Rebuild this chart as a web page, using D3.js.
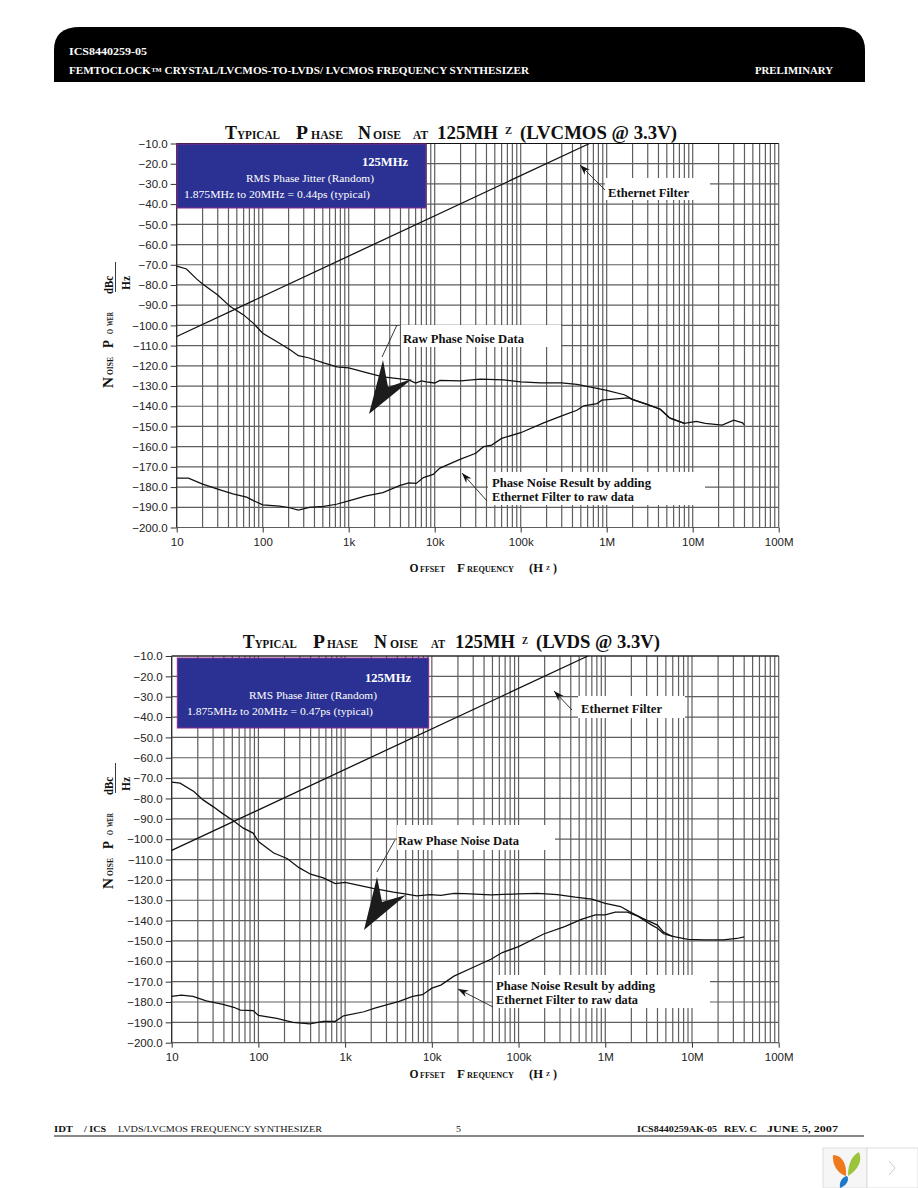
<!DOCTYPE html>
<html>
<head>
<meta charset="utf-8">
<script src="https://cdn.jsdelivr.net/npm/d3@7/dist/d3.min.js"></script>
<style>
  html, body { margin: 0; padding: 0; background: #fff; }
  svg { display: block; }
  .serif { font-family: "Liberation Serif", serif; }
  .axis text { font-family: "Liberation Sans", sans-serif; font-size: 11.5px; fill: #222; }
  .axis path { display: none; }
  .axis line { stroke: #333; }
</style>
</head>
<body>
<svg id="page" width="918" height="1188"></svg>
<script>
const xTicks = [10, 100, 1e3, 1e4, 1e5, 1e6, 1e7, 1e8];
const xTickLabels = ['10', '100', '1k', '10k', '100k', '1M', '10M', '100M'];
const yTicks = [-10, -20, -30, -40, -50, -60, -70, -80, -90, -100, -110, -120, -130, -140, -150, -160, -170, -180, -190, -200];

// Ethernet filter response, same straight line on both plots
const filterFreq = [10, 630000];
const filterDb = [-105.5, -10];

// top plot, LVCMOS
const rawFreqA = [10, 13, 17, 20, 30, 42, 60, 78, 100, 145, 208, 260, 340, 510, 730, 1000, 1650, 2500, 5000, 6000, 7000, 8000, 10000, 11500, 20000, 34000, 63000, 100000, 170000, 300000, 450000, 700000, 1000000, 1600000, 2000000, 3000000, 4200000, 5500000, 8000000, 11000000, 14000000, 22000000, 30000000, 38000000, 40000000];
const rawDbA = [-70.7, -72.1, -77, -79.5, -85, -90.7, -94.8, -99, -103.9, -108, -112, -115, -116, -118.5, -120.5, -121, -123.5, -125.5, -127, -128.5, -127.5, -128, -128.5, -127.2, -127.4, -126.6, -127, -127.9, -128.4, -128.5, -129.2, -130.8, -132.1, -134.3, -136.6, -139.2, -141.5, -146, -148.5, -147.5, -148.5, -149.3, -146.9, -148.2, -149.3];
const resultFreqA = [10, 13.7, 20, 30, 45, 65, 78, 100, 157, 200, 260, 350, 510, 720, 1000, 1600, 2500, 3900, 5000, 6100, 7400, 9600, 11500, 20000, 30000, 37000, 46000, 60000, 100000, 185000, 300000, 450000, 540000, 770000, 880000, 1400000, 1800000, 2000000, 3000000, 4200000, 5300000, 8000000];
const resultDbA = [-175.6, -175.6, -178.5, -181, -183.4, -185, -186.7, -188.8, -189.4, -190.1, -191.4, -190.1, -189.6, -188.5, -186.8, -184.4, -182.7, -179.3, -177.9, -178.2, -175.3, -173.7, -170.6, -166.2, -163.3, -160, -159.2, -155.9, -153.1, -148.2, -144.8, -142, -139.8, -138.7, -137, -136.2, -135.9, -136.7, -139.2, -141.5, -145.6, -148.5];

// bottom plot, LVDS
const rawFreqB = [10, 12.5, 18, 23, 30, 38, 51, 67, 87, 100, 150, 214, 294, 400, 560, 770, 1000, 2100, 3600, 5100, 6700, 9600, 12700, 18000, 24000, 48000, 100000, 165000, 280000, 450000, 700000, 1000000, 1500000, 1900000, 2700000, 4000000, 4700000, 6000000, 9000000, 14000000, 23000000, 33000000, 40000000];
const rawDbB = [-72, -72.5, -76.6, -80.7, -84, -87.2, -90.8, -94.6, -97, -101.2, -106.8, -109.5, -114, -117.2, -119, -121.8, -121.2, -124.2, -126, -127, -127.9, -127.3, -127.6, -126.6, -126.8, -127.4, -126.9, -126.6, -127.2, -128.5, -129.5, -131.5, -133.1, -135.6, -138.9, -142.2, -145.7, -147.8, -149.2, -149.5, -149.5, -148.8, -148];
const resultFreqB = [10, 12.9, 17.6, 25, 38, 52, 62, 87, 100, 163, 250, 390, 560, 770, 960, 1650, 2200, 3000, 4200, 6000, 7800, 10000, 12700, 18000, 31000, 48000, 65000, 100000, 195000, 340000, 530000, 770000, 1000000, 1300000, 1800000, 2400000, 3400000, 4000000, 4700000, 6000000];
const resultDbB = [-177.2, -176.6, -177.2, -179.4, -181, -182.6, -184, -184.2, -186.6, -188, -190, -190.7, -189.5, -189.5, -186.8, -184.8, -183, -181.4, -179.7, -177.2, -176.4, -173.2, -171.7, -167.3, -162.7, -159, -155.7, -152.8, -146.6, -143, -139.4, -137.2, -137.2, -135.9, -135.9, -138, -142.1, -143.8, -146.5, -147.8];

const svg = d3.select('#page');

// one stretch of text fitted to a measured width
function fit(parent, str, x, y, w, size, opt) {
  opt = opt || {};
  const t = parent.append('text')
    .attr('class', 'serif')
    .attr('x', x)
    .attr('y', y)
    .attr('font-size', size)
    .attr('font-weight', opt.weight || 'bold')
    .attr('fill', opt.fill || '#111')
    .text(str);
  if (w) t.attr('textLength', w).attr('lengthAdjust', 'spacingAndGlyphs');
  return t;
}

// leader line with a small filled head at the tip
function pointer(g, x1, y1, x2, y2) {
  g.append('line')
    .attr('x1', x1).attr('y1', y1).attr('x2', x2).attr('y2', y2)
    .attr('stroke', '#222').attr('stroke-width', 0.9);
  const a = Math.atan2(y1 - y2, x1 - x2);
  const p = (r, da) => [x2 + r * Math.cos(a + da), y2 + r * Math.sin(a + da)];
  g.append('polygon')
    .attr('points', [[x2, y2], p(11, 0.33), p(7, 0), p(11, -0.33)].join(' '))
    .attr('fill', '#111');
}

function drawChart(c) {
  const g = svg.append('g');

  const x = d3.scaleLog().domain([10, 1e8]).range([c.left, 778.7]);
  const y = d3.scaleLinear().domain([-10, -200]).range([c.top, c.bottom]);

  // minor and decade verticals
  const verticals = [];
  for (let d = 10; d < 1e8; d *= 10) {
    d3.range(1, 10).forEach(m => verticals.push(d * m));
  }
  verticals.push(1e8);

  g.append('g').selectAll('line')
    .data(verticals)
    .enter().append('line')
      .attr('x1', d => x(d)).attr('x2', d => x(d))
      .attr('y1', c.top).attr('y2', c.bottom)
      .attr('stroke', '#5e5e5e').attr('stroke-width', 1.2);

  g.append('g').selectAll('line')
    .data(yTicks)
    .enter().append('line')
      .attr('x1', c.left).attr('x2', 778.7)
      .attr('y1', d => y(d)).attr('y2', d => y(d))
      .attr('stroke', '#5e5e5e').attr('stroke-width', 1.2);

  g.append('line')
    .attr('x1', c.left).attr('x2', 778.7)
    .attr('y1', c.top).attr('y2', c.top)
    .attr('stroke', '#111').attr('stroke-width', 1.2);
  g.append('line')
    .attr('x1', c.left).attr('x2', c.left)
    .attr('y1', c.top).attr('y2', c.bottom)
    .attr('stroke', '#222').attr('stroke-width', 1);

  const xAxis = d3.axisBottom(x)
    .tickValues(xTicks)
    .tickSize(5)
    .tickPadding(c.xPad)
    .tickFormat((d, i) => xTickLabels[i]);
  const yAxis = d3.axisLeft(y)
    .tickValues(yTicks)
    .tickSize(6)
    .tickPadding(3)
    .tickFormat(d3.format('.1f'));

  g.append('g')
    .attr('class', 'x axis')
    .attr('transform', 'translate(0,' + c.bottom + ')')
    .call(xAxis);
  g.append('g')
    .attr('class', 'y axis')
    .attr('transform', 'translate(' + c.left + ',0)')
    .call(yAxis);

  const line = d3.line().x(d => x(d[0])).y(d => y(d[1]));
  const series = [
    [filterFreq, filterDb, 1.3],
    [c.rawFreq, c.rawDb, 1.25],
    [c.resultFreq, c.resultDb, 1.25]
  ];
  series.forEach(s => {
    g.append('path')
      .datum(s[0].map((f, i) => [f, s[1][i]]))
      .attr('d', line)
      .attr('fill', 'none')
      .attr('stroke', '#111')
      .attr('stroke-width', s[2]);
  });

  // jitter box
  const b = c.box;
  g.append('rect')
    .attr('x', b.x).attr('y', b.y).attr('width', b.w).attr('height', b.h)
    .attr('fill', '#2a3192').attr('stroke', '#8e2b8e').attr('stroke-width', 1);
  fit(g, '125MHz', b.t[0], b.t[1], 46, 12.5, { fill: '#fff' });
  fit(g, 'RMS Phase Jitter (Random)', b.t[2], b.t[3], 128, 10.5, { fill: '#fff', weight: 'normal' });
  fit(g, '1.875MHz to 20MHz = ' + c.jitter + 'ps (typical)', b.t[4], b.t[5], 186, 10.5, { fill: '#fff', weight: 'normal' });

  // callouts, white patches knock out the grid
  c.patches.forEach(p => {
    g.append('rect').attr('x', p[0]).attr('y', p[1]).attr('width', p[2]).attr('height', p[3]).attr('fill', '#fff');
  });
  c.labels.forEach(l => fit(g, l[0], l[1], l[2], l[3], 12));
  c.pointers.forEach(p => pointer(g, p[0], p[1], p[2], p[3]));
  g.append('line')
    .attr('x1', c.leader[0]).attr('y1', c.leader[1]).attr('x2', c.leader[2]).attr('y2', c.leader[3])
    .attr('stroke', '#222').attr('stroke-width', 0.9);
  g.append('polygon')
    .attr('points', c.bigArrow.join(' '))
    .attr('fill', '#1c1c1c');

  // title, stretched small caps
  c.title.forEach(t => fit(g, t[0], t[1], t[4] || c.titleY, t[2], t[3]));

  // x label
  const xl = c.xLabelY;
  fit(g, 'O', 409.5, xl, 9, 13);
  fit(g, 'FFSET', 420, xl, 25, 7.5);
  fit(g, 'F', 457, xl, 8, 13);
  fit(g, 'REQUENCY', 467, xl, 47, 7.5);
  fit(g, '(H', 529, xl, 14, 13);
  fit(g, 'Z', 546, xl - 2, 4, 7);
  fit(g, ')', 553, xl, 4, 13);

  // y label, rotated pieces measured from the bottom up
  const yl = g.append('g').attr('transform', 'translate(113,' + c.yLabelBottom + ') rotate(-90)');
  fit(yl, 'N', 0, 0, 11, 14);
  fit(yl, 'OISE', 13, 0, 18, 7.5);
  fit(yl, 'P', 40, 0, 8, 14);
  fit(yl, 'O', 54, 0, 5, 7.5);
  fit(yl, 'WER', 62, 0, 14, 7.5);
  fit(yl, 'dBc', 94, 0, 18, 12);
  const h = g.append('g').attr('transform', 'translate(130,' + c.yLabelBottom + ') rotate(-90)');
  fit(h, 'Hz', 98, 0, 14, 12);
  g.append('line')
    .attr('x1', 115.5).attr('x2', 115.5)
    .attr('y1', c.yLabelBottom - 126).attr('y2', c.yLabelBottom - 96)
    .attr('stroke', '#222').attr('stroke-width', 0.9);
}

// header band
svg.append('path')
  .attr('d', 'M54,82 V50 Q54,27 80,27 H838 Q865,27 865,50 V82 Z')
  .attr('fill', '#000');
fit(svg, 'ICS8440259-05', 69, 54.5, 78, 9.5, { fill: '#fff' });
fit(svg, 'FEMTOCLOCK\u2122 CRYSTAL/LVCMOS-TO-LVDS/ LVCMOS FREQUENCY SYNTHESIZER', 69, 74, 460, 9.5, { fill: '#fff' });
fit(svg, 'PRELIMINARY', 755, 74, 78, 9.5, { fill: '#fff' });

drawChart({
  left: 176.7, top: 143.5, bottom: 527.5, xPad: 5,
  rawFreq: rawFreqA, rawDb: rawDbA, resultFreq: resultFreqA, resultDb: resultDbA,
  jitter: '0.44',
  box: { x: 177, y: 144, w: 249, h: 64, t: [362, 165.5, 246, 182, 184, 197.5] },
  patches: [[605, 178, 105, 22], [401, 325, 160, 22], [488, 472, 217, 33]],
  labels: [['Ethernet Filter', 608, 197, 81], ['Raw Phase Noise Data', 403, 343, 121],
           ['Phase Noise Result by adding', 492, 487, 159], ['Ethernet Filter to raw data', 492, 501, 142]],
  pointers: [[605, 190, 580, 165], [487, 501, 462, 473]],
  leader: [397, 325, 382, 357],
  bigArrow: [[369, 414], [383, 360], [388, 387], [412, 379]],
  titleY: 138.5, xLabelY: 571.5, yLabelBottom: 388,
  title: [['T', 225, 12, 19], ['YPICAL', 237, 43, 13], ['P', 296, 12, 19], ['HASE', 311, 32, 13],
          ['N', 358, 13, 19], ['OISE', 373, 28, 13], ['AT', 413, 15, 13], ['125MH', 437, 61, 18],
          ['Z', 505, 7, 11, 134], ['(LVCMOS @ 3.3V)', 520, 157, 18]]
});

drawChart({
  left: 171.7, top: 656, bottom: 1042.7, xPad: 5,
  rawFreq: rawFreqB, rawDb: rawDbB, resultFreq: resultFreqB, resultDb: resultDbB,
  jitter: '0.47',
  box: { x: 177.3, y: 658, w: 251.4, h: 70, t: [365, 682, 249, 699, 187, 715] },
  patches: [[578, 696, 107, 22], [397, 825, 158, 25], [493, 975, 217, 33]],
  labels: [['Ethernet Filter', 581, 713, 81], ['Raw Phase Noise Data', 398, 845, 121],
           ['Phase Noise Result by adding', 496, 990, 159], ['Ethernet Filter to raw data', 496, 1004, 142]],
  pointers: [[572, 710, 554, 691], [493, 1007, 458, 989]],
  leader: [395, 840, 377, 872],
  bigArrow: [[364, 930], [377, 877], [382, 902], [406, 895]],
  titleY: 648, xLabelY: 1077.5, yLabelBottom: 889,
  title: [['T', 242.7, 12, 19], ['YPICAL', 254.7, 42, 13], ['P', 313, 12, 19], ['HASE', 327, 31, 13],
          ['N', 374, 13, 19], ['OISE', 390, 28, 13], ['AT', 431, 14, 13], ['125MH', 455, 60, 18],
          ['Z', 522, 6, 11, 644], ['(LVDS @ 3.3V)', 536, 124, 18]]
});

// footer
fit(svg, 'IDT', 54, 1132, 19, 9);
fit(svg, '/ ICS', 84, 1132, 22, 9);
fit(svg, 'LVDS/LVCMOS FREQUENCY SYNTHESIZER', 118, 1132, 204, 9, { weight: 'normal' });
fit(svg, '5', 456, 1132, 5, 9, { weight: 'normal' });
fit(svg, 'ICS8440259AK-05', 637, 1132, 80, 9);
fit(svg, 'REV. C', 724, 1132, 33, 9);
fit(svg, 'JUNE 5, 2007', 767, 1132, 71, 9);
svg.append('line')
  .attr('x1', 54).attr('x2', 864).attr('y1', 1136).attr('y2', 1136)
  .attr('stroke', '#111').attr('stroke-width', 1);

// viewer widget in the corner
svg.append('rect').attr('x', 823).attr('y', 1148).attr('width', 44).attr('height', 40).attr('fill', '#f6f6f6').attr('stroke', '#ddd');
svg.append('rect').attr('x', 867).attr('y', 1148).attr('width', 51).attr('height', 40).attr('fill', '#fff').attr('stroke', '#ddd');
svg.append('path').attr('d', 'M833,1155 C842,1155 847,1164 846,1176 C839,1174 832,1166 833,1155 Z').attr('fill', '#ee7a1c');
svg.append('path').attr('d', 'M859,1152 C863,1162 857,1170 848,1176 C848,1165 851,1156 859,1152 Z').attr('fill', '#9cc43a');
svg.append('path').attr('d', 'M847,1176 C850,1180 846,1186 840,1188 C839,1182 842,1177 847,1176 Z').attr('fill', '#1f78c8');
svg.append('path').attr('d', 'M889,1161 L895,1168 L889,1175').attr('fill', 'none').attr('stroke', '#ccc');
</script>
</body>
</html>
